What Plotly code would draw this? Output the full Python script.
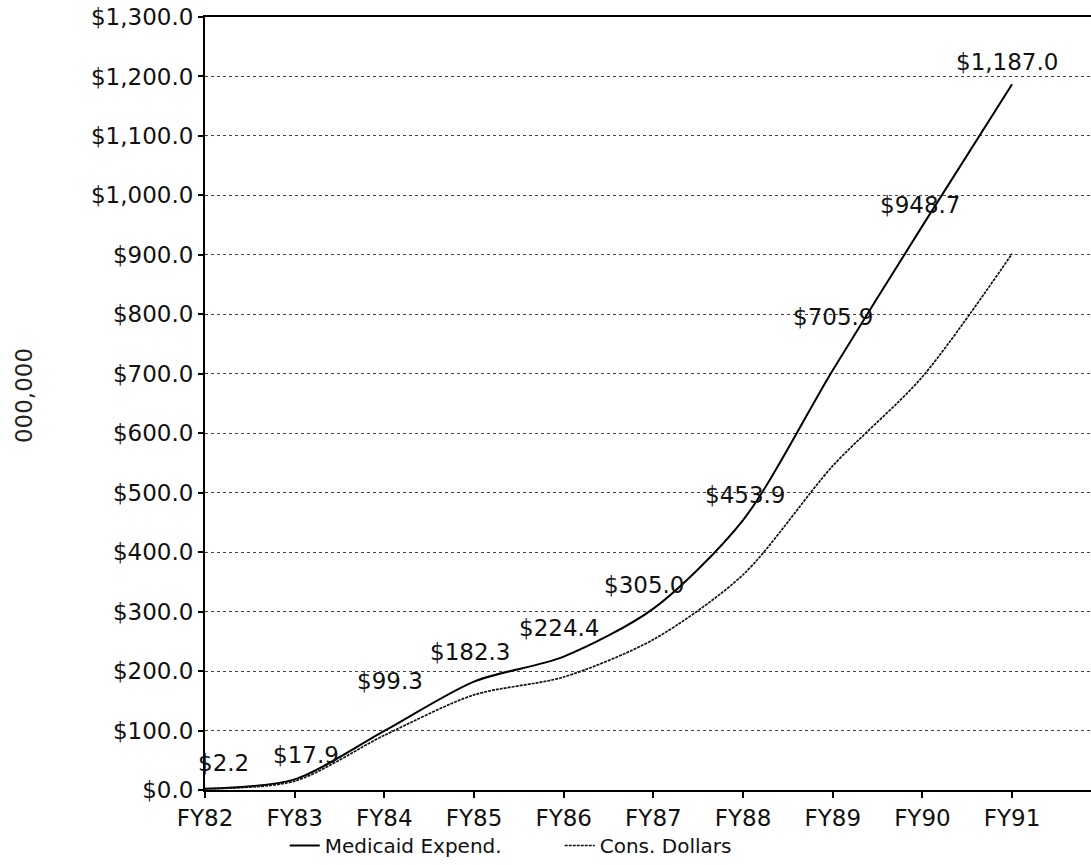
import plotly.graph_objects as go

years = ["FY82", "FY83", "FY84", "FY85", "FY86", "FY87", "FY88", "FY89", "FY90", "FY91"]
medicaid_expend = [2.2, 17.9, 99.3, 182.3, 224.4, 305.0, 453.9, 705.9, 948.7, 1187.0]
cons_dollars = [2.0, 15.0, 92.0, 160.0, 190.0, 253.0, 362.0, 545.0, 695.0, 902.0]
y_ticks = list(range(0, 1301, 100))
y_tick_labels = ["$" + format(v, ",.1f") for v in y_ticks]
label_texts = ["$" + format(v, ",.1f") for v in medicaid_expend]

# label placement offsets (pixels) relative to each point
label_dx = [18, 11, 6, -4, -5, -9, 2, 0, -2, -5]
label_dy = [26, 24, 50, 30, 29, 24, 25, 53, 21, 22]

FONT = "DejaVu Sans"

fig = go.Figure()
fig.add_trace(go.Scatter(
    x=years, y=medicaid_expend, mode="lines", name="Medicaid Expend.",
    line=dict(color="black", width=2, shape="spline", smoothing=0.8),
))
fig.add_trace(go.Scatter(
    x=years, y=cons_dollars, mode="lines", name="Cons. Dollars",
    line=dict(color="#111111", width=1.7, shape="spline", smoothing=0.8, dash="3px,1px"),
))

for xv, yv, t, dx, dy in zip(years, medicaid_expend, label_texts, label_dx, label_dy):
    fig.add_annotation(x=xv, y=yv, xref="x", yref="y", text=t, showarrow=False,
                       xshift=dx, yshift=dy, font=dict(family=FONT, size=23, color="#111111"))

fig.add_annotation(x=-0.204, y=0.51, xref="paper", yref="paper", text="000,000",
                   xanchor="center", yanchor="middle",
                   textangle=-90, showarrow=False, font=dict(family=FONT, size=23, color="#222222"))

fig.update_layout(
    width=1091, height=865,
    margin=dict(l=205, r=0, t=17, b=68),
    paper_bgcolor="white", plot_bgcolor="white",
    showlegend=True,
    legend=dict(orientation="h", x=0.09, y=-0.072, xanchor="left", yanchor="middle",
                font=dict(family=FONT, size=20, color="#111111"),
                entrywidth=230, entrywidthmode="pixels",
                itemwidth=30, tracegroupgap=0, bgcolor="rgba(0,0,0,0)"),
    font=dict(family=FONT, color="#111111"),
)
fig.update_xaxes(
    type="category", range=[0, 9.88],
    showline=True, linecolor="black", linewidth=2, mirror=True,
    showgrid=False, ticks="outside", ticklen=6, tickcolor="black", tickwidth=1.5,
    tickfont=dict(family=FONT, size=23, color="#111111"),
    zeroline=False,
)
fig.update_yaxes(
    range=[0, 1300], tickvals=y_ticks, ticktext=y_tick_labels,
    showline=True, linecolor="black", linewidth=2,
    showgrid=True, gridcolor="#444444", gridwidth=1, griddash="dot",
    ticks="outside", ticklen=5, tickcolor="black", tickwidth=1.5,
    tickfont=dict(family=FONT, size=23, color="#111111"),
    zeroline=False,
)

fig.write_html("out.html")
